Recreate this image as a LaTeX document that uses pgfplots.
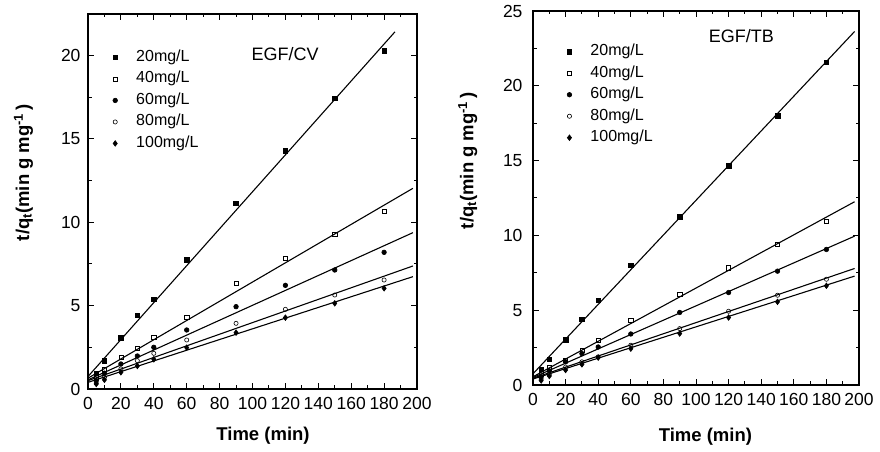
\documentclass[border=0pt]{standalone}
\usepackage{fontspec}
\setmainfont{Liberation Sans}
\usepackage{pgfplots}
\pgfplotsset{compat=1.18}

\pgfplotsset{
  kin/.style={
    scale only axis,
    xmin=0, xmax=200, ymin=0,
    xtick distance=20, ytick distance=5,
    minor x tick num=1, minor y tick num=1,
    tick align=inside,
    major tick length=6pt, minor tick length=3.5pt,
    axis line style={line width=1.2pt},
    every tick/.style={line width=1pt, black},
    tick label style={font=\fontsize{17.5}{19}\selectfont},
    /pgf/number format/assume math mode=true,
    xticklabel style={yshift=-5pt},
    label style={font=\bfseries\fontsize{18.5}{20}\selectfont},
    legend style={draw=none, fill=none, font=\fontsize{16}{18}\selectfont,
      anchor=north west, row sep=2.5pt, inner sep=0pt,
      nodes={text height=11.5pt, text depth=3.5pt}},
    legend cell align=left,
    legend image code/.code={\draw[##1] plot coordinates {(0pt,0pt)}; \path[draw=none] (-3pt,0pt) (19pt,0pt);},
  },
  dat/.style={only marks, black, mark options={line width=0.6pt}},
  fit/.style={black, line width=1.1pt, no marks, forget plot},
}

\begin{document}
\begin{tikzpicture}
\path[use as bounding box] (0pt,0pt) rectangle (880pt,452pt);

% EGF/CV
\begin{axis}[kin,
  at={(88pt,63pt)}, anchor=south west,
  width=329pt, height=375pt,
  ymax=22.5,
  yticklabel style={xshift=-4pt},
  xlabel={Time (min)},
  xlabel style={at={(axis description cs:0.532,-0.125)}, anchor=center},
  ylabel={t/q\textsubscript{t}(min g mg\textsuperscript{-1}\,)},
  ylabel style={at={(axis description cs:-0.196,0.577)}, anchor=center},
  legend style={at={(axis description cs:0.073,0.91)}},
]
\addplot+[dat, mark=square*, mark size=2.3pt] coordinates {
(5,0.95) (10,1.68) (20,3.08) (30,4.42) (40,5.38) (60,7.74) (90,11.14) (120,14.28) (150,17.44) (180,20.3)};
\addplot+[dat, mark=square, mark size=2.1pt] coordinates {
(5,0.7) (10,1.2) (20,1.9) (30,2.42) (40,3.1) (60,4.28) (90,6.34) (120,7.82) (150,9.3) (180,10.68)};
\addplot+[dat, mark=*, mark size=2.3pt] coordinates {
(5,0.5) (10,0.95) (20,1.5) (30,1.98) (40,2.5) (60,3.54) (90,4.94) (120,6.22) (150,7.14) (180,8.2)};
\addplot+[dat, mark=o, mark size=2.1pt] coordinates {
(5,0.35) (10,0.7) (20,1.2) (30,1.7) (40,2.14) (60,2.94) (90,3.94) (120,4.78) (150,5.64) (180,6.54)};
\addplot+[dat, mark=diamond*, mark size=2.8pt] coordinates {
(5,0.3) (10,0.55) (20,1.0) (30,1.38) (40,1.78) (60,2.48) (90,3.38) (120,4.28) (150,5.14) (180,6.04)};
\legend{20mg/L,40mg/L,60mg/L,80mg/L,100mg/L}
% fitted lines
\addplot[fit] coordinates {(0,0.75) (186.6,21.43)};
\addplot[fit] coordinates {(0,0.65) (197.5,12.04)};
\addplot[fit] coordinates {(0,0.55) (197.5,9.38)};
\addplot[fit] coordinates {(0,0.5) (197.5,7.38)};
\addplot[fit] coordinates {(0,0.4) (197.5,6.74)};
\node[font=\fontsize{18}{20}\selectfont] at (axis cs:119.8,20.07) {EGF/CV};
\end{axis}

% EGF/TB
\begin{axis}[kin,
  at={(533pt,67pt)}, anchor=south west,
  width=326pt, height=374pt,
  ymax=25,
  yticklabel style={xshift=-7pt},
  xlabel={Time (min)},
  xlabel style={at={(axis description cs:0.529,-0.138)}, anchor=center},
  ylabel={t/q\textsubscript{t}(min g mg\textsuperscript{-1}\,)},
  ylabel style={at={(axis description cs:-0.2,0.60)}, anchor=center},
  legend style={at={(axis description cs:0.102,0.917)}},
]
\addplot+[dat, mark=square*, mark size=2.3pt] coordinates {
(5,1.05) (10,1.72) (20,3.04) (30,4.38) (40,5.67) (60,8.01) (90,11.25) (120,14.64) (150,18.0) (180,21.58)};
\addplot+[dat, mark=square, mark size=2.1pt] coordinates {
(5,0.75) (10,1.15) (20,1.65) (30,2.32) (40,2.99) (60,4.33) (90,6.07) (120,7.83) (150,9.4) (180,10.96)};
\addplot+[dat, mark=*, mark size=2.3pt] coordinates {
(5,0.55) (10,0.95) (20,1.55) (30,2.1) (40,2.54) (60,3.41) (90,4.85) (120,6.18) (150,7.61) (180,9.06)};
\addplot+[dat, mark=o, mark size=2.1pt] coordinates {
(5,0.4) (10,0.7) (20,1.2) (30,1.55) (40,1.88) (60,2.66) (90,3.77) (120,4.93) (150,6.0) (180,7.07)};
\addplot+[dat, mark=diamond*, mark size=2.8pt] coordinates {
(5,0.3) (10,0.6) (20,1.0) (30,1.38) (40,1.83) (60,2.43) (90,3.44) (120,4.51) (150,5.56) (180,6.63)};
\legend{20mg/L,40mg/L,60mg/L,80mg/L,100mg/L}
\addplot[fit] coordinates {(0,0.75) (197.3,23.63)};
\addplot[fit] coordinates {(0,0.55) (197.3,12.25)};
\addplot[fit] coordinates {(0,0.5) (197.3,9.95)};
\addplot[fit] coordinates {(0,0.45) (197.3,7.79)};
\addplot[fit] coordinates {(0,0.4) (197.3,7.28)};
\node[font=\fontsize{18}{20}\selectfont] at (axis cs:127.9,23.34) {EGF/TB};
\end{axis}
\end{tikzpicture}
\end{document}
